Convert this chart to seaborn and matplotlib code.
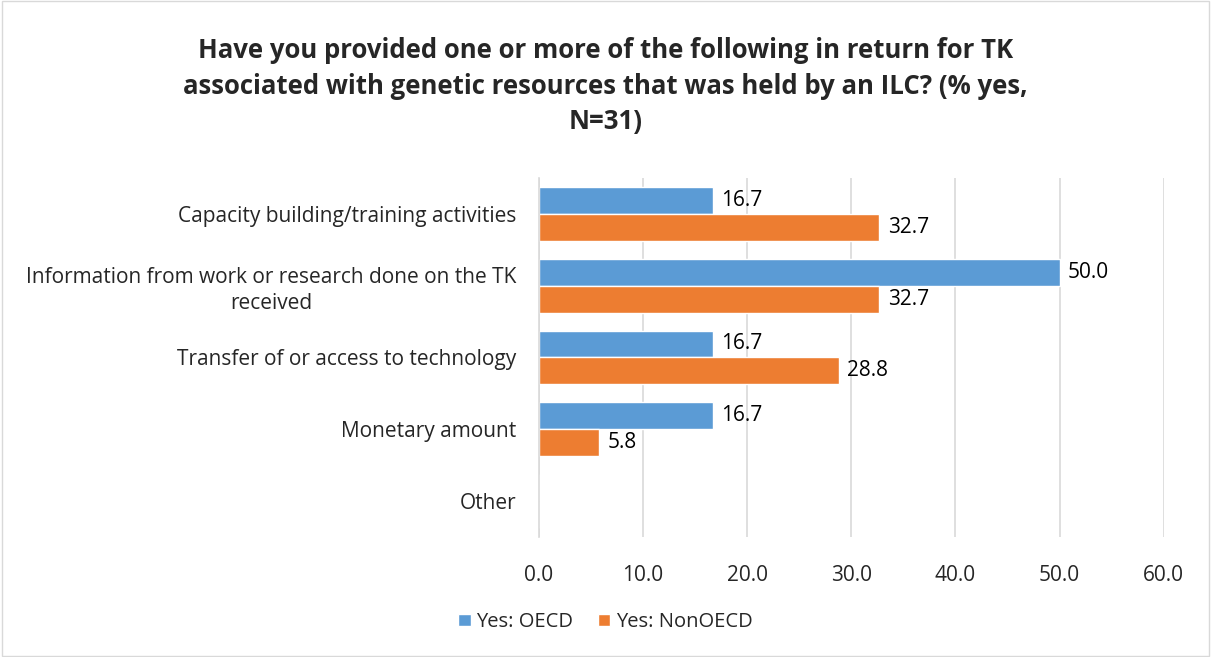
import pandas as pd
import matplotlib.pyplot as plt
import seaborn as sns
from matplotlib.patches import Rectangle

categories = ['Capacity building/training activities',
              'Information from work or research done on the TK\nreceived',
              'Transfer of or access to technology',
              'Monetary amount',
              'Other']
oecd = [16.7, 50.0, 16.7, 16.7, 0.0]
non_oecd = [32.7, 32.7, 28.8, 5.8, 0.0]
series = ['Yes: OECD', 'Yes: NonOECD']
colors = ['#5B9BD5', '#ED7D31']
title = ('Have you provided one or more of the following in return for TK\n'
         'associated with genetic resources that was held by an ILC? (% yes,\n'
         'N=31)')

df = pd.DataFrame({
    'category': categories * 2,
    'value': oecd + non_oecd,
    'series': [series[0]] * len(categories) + [series[1]] * len(categories),
})

sns.set_style('white')
plt.rcParams['font.family'] = ['Open Sans', 'DejaVu Sans']

fig = plt.figure(figsize=(12.11, 6.57), dpi=100)
ax = fig.add_axes([0.445, 0.183, 0.516, 0.546])

sns.barplot(data=df, y='category', x='value', hue='series', order=categories,
            hue_order=series, palette=colors, width=0.75, saturation=1,
            orient='h', ax=ax, legend=True)

for cont in ax.containers:
    labels = [f'{v:.1f}' if v > 0 else '' for v in cont.datavalues]
    ax.bar_label(cont, labels=labels, padding=6, fontsize=15, color='#000000')

ax.set_xlim(0, 60)
ax.set_xticks(range(0, 61, 10))
ax.set_xticklabels([f'{t:.1f}' for t in range(0, 61, 10)], fontsize=15)
ax.tick_params(axis='y', labelsize=15, length=0, pad=16)
ax.tick_params(axis='x', length=0, pad=20)
for lab in ax.get_yticklabels():
    lab.set_horizontalalignment('right')
    lab.set_multialignment('center')
    lab.set_linespacing(1.3)
ax.set_xlabel('')
ax.set_ylabel('')
ax.grid(axis='x', color='#D9D9D9', linewidth=1.2)
ax.set_axisbelow(True)
for s in ['top', 'right', 'bottom']:
    ax.spines[s].set_visible(False)
ax.spines['left'].set_color('#D9D9D9')
ax.spines['left'].set_linewidth(1.2)

handles, labs = ax.get_legend_handles_labels()
ax.legend(handles, labs, loc='center', bbox_to_anchor=(0.5, 0.053),
          bbox_transform=fig.transFigure, ncol=2, frameon=False, fontsize=14.5,
          handlelength=0.6, handleheight=0.6, handletextpad=0.3, columnspacing=1.2)

fig.text(0.5, 0.869, title, ha='center', va='center', fontsize=18.5,
         fontweight='bold', linespacing=1.4)

fig.patches.append(Rectangle((0.002, 0.002), 0.996, 0.996, transform=fig.transFigure,
                             fill=False, edgecolor='#D9D9D9', linewidth=1))

fig.savefig('out.png', dpi=100)
